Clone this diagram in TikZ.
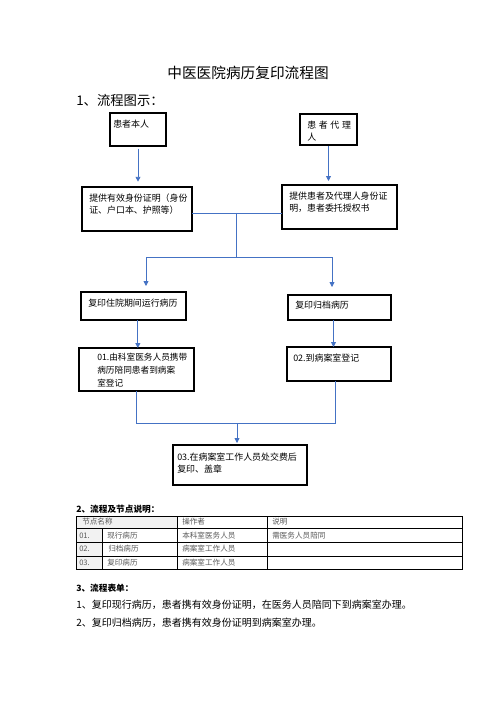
\documentclass[tikz,border=0pt]{standalone}
\usepackage{fontspec}
\setmainfont{Noto Sans CJK SC}
\usepackage{xcolor}
\usetikzlibrary{arrows.meta, positioning, calc}

\definecolor{fluxo}{HTML}{4472C4}

\begin{document}
\begin{tikzpicture}[
    x=0.75pt,
    y=-0.75pt,
    caixa/.style={
        draw=black,
        line width=0.9pt,
        anchor=north west,
        inner sep=0pt,
        outer sep=0pt
    },
    texto/.style={
        font=\fontsize{6.7}{9}\selectfont,
        align=left,
        anchor=north west,
        inner sep=0pt
    },
    linha/.style={
        draw=fluxo,
        line width=0.6pt
    },
    seta/.style={
        linha,
        -{Triangle[width=3.6pt,length=3.6pt]}
    },
    tabela/.style={
        draw=black,
        line width=0.7pt
    },
    celula/.style={
        font=\fontsize{5.7}{7}\selectfont,
        text=black!65,
        anchor=west,
        inner sep=0pt
    },
    secao/.style={
        font=\fontsize{6.5}{8}\selectfont\bfseries,
        anchor=west,
        inner sep=0pt
    },
    lista/.style={
        font=\fontsize{7.5}{9}\selectfont,
        anchor=west,
        inner sep=0pt
    }
]

\useasboundingbox[fill=white] (0,0) rectangle (496,702);

% ============================================================
% TITULO
% ============================================================

\node[
    font=\fontsize{11}{13}\selectfont,
    inner sep=0pt
] (titulo) at (248,73)
{中医医院病历复印流程图};

\node[
    font=\fontsize{10}{12}\selectfont,
    anchor=west,
    inner sep=0pt
] (parte1) at (76,100)
{1、流程图示：};

% ============================================================
% FLUXO
% ============================================================

% Quem solicita
\node[caixa, minimum width=42pt, minimum height=24.75pt] (paciente) at (110,113) {};
\node[texto] (tpaciente) at ([shift={(3,6.5)}]paciente.north west) {患者本人};

\node[caixa, minimum width=42.75pt, minimum height=23.25pt] (procurador) at (300,114) {};
\node[texto] (tprocurador) at ([shift={(7,6.5)}]procurador.north west)
{患\hspace{2pt}者\hspace{2pt}代\hspace{2pt}理\\人};

% Documentos
\node[caixa, minimum width=82.5pt, minimum height=33pt] (docpac) at (82,187) {};
\node[texto] (tdocpac) at ([shift={(7,6.5)}]docpac.north west)
{提供有效身份证明（身份\\证、户口本、护照等）};

\node[caixa, minimum width=86.25pt, minimum height=33pt] (docproc) at (282,185) {};
\node[texto] (tdocproc) at ([shift={(7,6.5)}]docproc.north west)
{提供患者及代理人身份证\\明，患者委托授权书};

% Tipo de copia
\node[caixa, minimum width=78.75pt, minimum height=21pt] (internado) at (81,292) {};
\node[texto] (tinternado) at ([shift={(7,6.5)}]internado.north west)
{复印住院期间运行病历};

\node[caixa, minimum width=77.25pt, minimum height=18.75pt] (arquivo) at (288,295) {};
\node[texto] (tarquivo) at ([shift={(7,5.5)}]arquivo.north west)
{复印归档病历};

% Passos
\node[caixa, minimum width=86.25pt, minimum height=32.25pt] (passo1) at (79,348) {};
\node[
    texto,
    font=\fontsize{6.5}{10}\selectfont
] (tpasso1) at ([shift={(18,4.5)}]passo1.north west)
{01.由科室医务人员携带\\病历陪同患者到病案\\室登记};

\node[caixa, minimum width=78pt, minimum height=25.5pt] (passo2) at (287,347) {};
\node[texto] (tpasso2) at ([shift={(6,6.5)}]passo2.north west)
{02.到病案室登记};

\node[caixa, minimum width=100.5pt, minimum height=30pt] (passo3) at (173,445) {};
\node[texto] (tpasso3) at ([shift={(4,7.5)}]passo3.north west)
{03.在病案室工作人员处交费后\\复印、盖章};

% Ligacoes
\coordinate (juncao) at (236,213);
\coordinate (ramoesq) at (146,257);
\coordinate (ramodir) at (332,257);
\coordinate (uniao) at (237,423);

\draw[seta, shorten <=2pt, shorten >=4pt] (paciente.south) -- (paciente.south |- docpac.north);
\draw[seta, shorten <=1pt, shorten >=3pt] (procurador.south) -- (procurador.south |- docproc.north);

\draw[linha] (docpac.east |- juncao) -- (docproc.west |- juncao);
\draw[linha] (juncao) -- (juncao |- ramoesq);
\draw[linha] (ramoesq) -- (ramodir);
\draw[seta, shorten >=4.5pt] (ramoesq) -- (ramoesq |- internado.north);
\draw[seta, shorten >=6pt] (ramodir) -- (ramodir |- arquivo.north);

\draw[seta] ([xshift=1pt]internado.south -| passo1.north) -- ([xshift=1pt]passo1.north);
\draw[seta] ([xshift=-4.5pt]arquivo.south) -- ([xshift=-4.5pt]arquivo.south |- passo2.north);

\draw[linha] (passo1.south) |- (uniao);
\draw[linha] ([xshift=-3pt]passo2.south) |- (uniao);
\draw[seta, shorten >=1.5pt] (uniao) -- (uniao |- passo3.north);

% ============================================================
% TABELA
% ============================================================

\node[secao] (parte2) at (76,509) {2、流程及节点说明：};

\fill[black!5] (76,516) rectangle (177,528);
\fill[black!5] (76,528) rectangle (102,569);

\draw[tabela] (76,516) rectangle (462,569);
\draw[tabela] (76,528) -- (462,528);
\draw[tabela] (76,542) -- (462,542);
\draw[tabela] (76,556) -- (462,556);
\draw[tabela] (102,528) -- (102,569);
\draw[tabela] (177,516) -- (177,569);
\draw[tabela] (267,516) -- (267,569);

\node[celula] (cab1) at (82,522) {节点名称};
\node[celula] (cab2) at (182,522) {操作者};
\node[celula] (cab3) at (272,522) {说明};

\node[celula] (n1) at (79,535.5) {01.};
\node[celula] (nome1) at (107,535.5) {现行病历};
\node[celula] (op1) at (182,535.5) {本科室医务人员};
\node[celula] (obs1) at (272,535.5) {需医务人员陪同};

\node[celula] (n2) at (79,549) {02.};
\node[celula] (nome2) at (108,549) {归档病历};
\node[celula] (op2) at (182,549) {病案室工作人员};

\node[celula] (n3) at (79,562.5) {03.};
\node[celula] (nome3) at (107,562.5) {复印病历};
\node[celula] (op3) at (182,562.5) {病案室工作人员};

% ============================================================
% FORMULARIO
% ============================================================

\node[secao] (parte3) at (76,588) {3、流程表单：};
\node[lista] (item1) at (76,605) {1、复印现行病历，患者携有效身份证明，在医务人员陪同下到病案室办理。};
\node[lista] (item2) at (76,623) {2、复印归档病历，患者携有效身份证明到病案室办理。};

\end{tikzpicture}
\end{document}
